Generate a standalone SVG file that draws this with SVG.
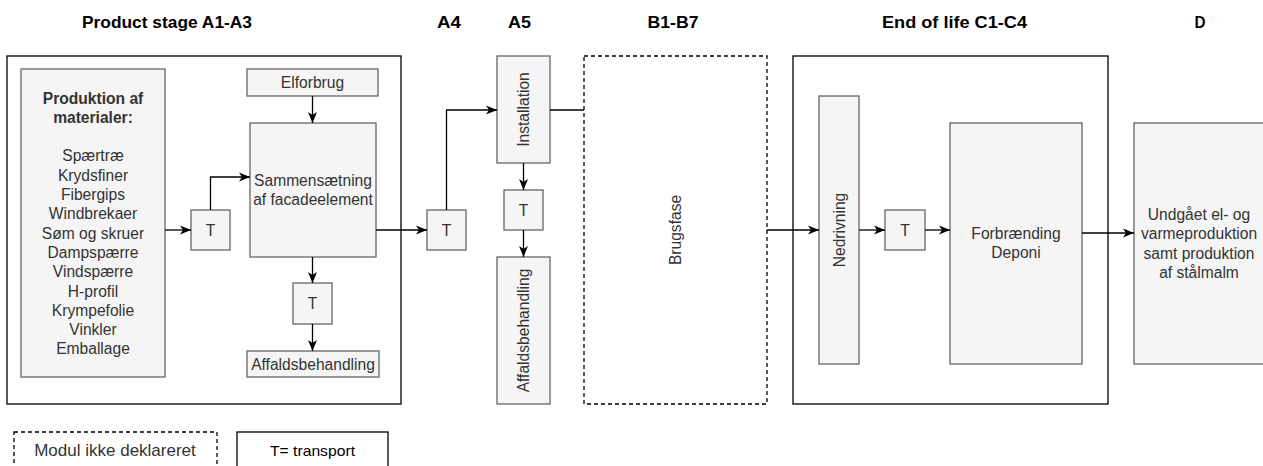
<svg xmlns="http://www.w3.org/2000/svg" width="1263" height="466" viewBox="0 0 1263 466">
<defs>
<style>
.frame{fill:#ffffff;stroke:#000000;stroke-width:1.3}
.dash{fill:#ffffff;stroke:#000000;stroke-width:1.3;stroke-dasharray:4,3}
.box{fill:#f5f5f5;stroke:#666666;stroke-width:1.3}
.t{font-family:"Liberation Sans",Arial,sans-serif;font-size:15.6px;fill:#333333;text-anchor:middle}
.b{font-weight:bold}
.h{font-family:"Liberation Sans",Arial,sans-serif;font-size:16.5px;font-weight:bold;fill:#000000;text-anchor:middle}
.c{fill:none;stroke:#000000;stroke-width:1.3}
</style>
<marker id="arr" markerUnits="userSpaceOnUse" markerWidth="12" markerHeight="12" viewBox="0 0 12 12" refX="11" refY="6" orient="auto">
<path d="M0,1.5 L11,6 L0,10.5 L3,6 Z" fill="#000000"/>
</marker>
</defs>
<rect width="1263" height="466" fill="#ffffff"/>

<g id="titles">
<text class="h" x="167" y="28" textLength="170" lengthAdjust="spacingAndGlyphs">Product stage A1-A3</text>
<text class="h" x="449" y="28" textLength="24" lengthAdjust="spacingAndGlyphs">A4</text>
<text class="h" x="519.5" y="28" textLength="23" lengthAdjust="spacingAndGlyphs">A5</text>
<text class="h" x="673" y="28" textLength="51" lengthAdjust="spacingAndGlyphs">B1-B7</text>
<text class="h" x="954.5" y="28" textLength="145" lengthAdjust="spacingAndGlyphs">End of life C1-C4</text>
<text class="h" x="1200" y="28" textLength="11" lengthAdjust="spacingAndGlyphs">D</text>
</g>

<g id="frame-a1a3"><rect class="frame" x="7" y="56" width="394" height="348"/></g>
<g id="frame-b"><rect class="dash" x="584" y="56" width="183" height="348"/><text class="t" transform="translate(680.5,230) rotate(-90)">Brugsfase</text></g>
<g id="frame-c"><rect class="frame" x="793" y="56" width="315" height="348"/></g>

<g id="produktion">
<rect class="box" x="21" y="69" width="144" height="308"/>
<text class="t b" x="93" y="103.5">Produktion af</text>
<text class="t b" x="93" y="122.8">materialer:</text>
<text class="t" x="93" y="161.4">Spærtræ</text>
<text class="t" x="93" y="180.7">Krydsfiner</text>
<text class="t" x="93" y="200">Fibergips</text>
<text class="t" x="93" y="219.3">Windbrekaer</text>
<text class="t" x="93" y="238.6">Søm og skruer</text>
<text class="t" x="93" y="257.9">Dampspærre</text>
<text class="t" x="93" y="277.2">Vindspærre</text>
<text class="t" x="93" y="296.5">H-profil</text>
<text class="t" x="93" y="315.8">Krympefolie</text>
<text class="t" x="93" y="335.1">Vinkler</text>
<text class="t" x="93" y="354.4">Emballage</text>
</g>

<g id="elforbrug"><rect class="box" x="247" y="69" width="131" height="27"/><text class="t" x="312.5" y="88">Elforbrug</text></g>
<g id="sammensaetning"><rect class="box" x="250" y="123" width="126" height="134"/><text class="t" x="313" y="185.5">Sammensætning</text><text class="t" x="313" y="205">af facadeelement</text></g>
<g id="t1"><rect class="box" x="191" y="210" width="39" height="40"/><text class="t" x="210.5" y="235.5">T</text></g>
<g id="t2"><rect class="box" x="293" y="283" width="39" height="41"/><text class="t" x="312.5" y="309">T</text></g>
<g id="affald-a1a3"><rect class="box" x="247" y="351" width="132" height="26"/><text class="t" x="313" y="369.5">Affaldsbehandling</text></g>

<g id="t-a4"><rect class="box" x="427" y="210" width="39" height="40"/><text class="t" x="446.5" y="235.5">T</text></g>

<g id="installation"><rect class="box" x="497" y="56" width="53" height="107"/><text class="t" transform="translate(529,109.5) rotate(-90)">Installation</text></g>
<g id="t-a5"><rect class="box" x="504" y="190" width="39" height="40"/><text class="t" x="523.5" y="215.5">T</text></g>
<g id="affald-a5"><rect class="box" x="497" y="257" width="53" height="147"/><text class="t" transform="translate(529,330.5) rotate(-90)">Affaldsbehandling</text></g>

<g id="nedrivning"><rect class="box" x="819" y="96" width="40" height="268"/><text class="t" transform="translate(844.5,230) rotate(-90)">Nedrivning</text></g>
<g id="t-c"><rect class="box" x="885" y="210" width="40" height="40"/><text class="t" x="905" y="235.5">T</text></g>
<g id="forbraending"><rect class="box" x="950" y="123" width="132" height="241"/><text class="t" x="1016" y="238.5">Forbrænding</text><text class="t" x="1016" y="258">Deponi</text></g>
<g id="undgaaet"><rect class="box" x="1134" y="123" width="132" height="241"/>
<text class="t" x="1199" y="220">Undgået el- og</text>
<text class="t" x="1199" y="239">varmeproduktion</text>
<text class="t" x="1199" y="258.5">samt produktion</text>
<text class="t" x="1199" y="278">af stålmalm</text>
</g>

<g id="legend-dashed"><rect class="dash" x="14" y="432" width="203" height="40"/><text x="115" y="456" font-family="'Liberation Sans',Arial,sans-serif" font-size="17px" fill="#333333" text-anchor="middle">Modul ikke deklareret</text></g>
<g id="legend-transport"><rect class="frame" x="237" y="432" width="151" height="40"/><text x="312.5" y="455.5" font-family="'Liberation Sans',Arial,sans-serif" font-size="15px" fill="#000000" text-anchor="middle" textLength="85" lengthAdjust="spacingAndGlyphs">T= transport</text></g>

<g id="connectors">
<path class="c" d="M165,230 H191" marker-end="url(#arr)"/>
<path class="c" d="M210.5,210 V177 H250" marker-end="url(#arr)"/>
<path class="c" d="M312.5,96 V123" marker-end="url(#arr)"/>
<path class="c" d="M312.5,257 V283" marker-end="url(#arr)"/>
<path class="c" d="M312.5,324 V351" marker-end="url(#arr)"/>
<path class="c" d="M376,230 H427" marker-end="url(#arr)"/>
<path class="c" d="M446.5,210 V110 H497" marker-end="url(#arr)"/>
<path class="c" d="M550,110 H584"/>
<path class="c" d="M523.5,163 V190" marker-end="url(#arr)"/>
<path class="c" d="M523.5,230 V257" marker-end="url(#arr)"/>
<path class="c" d="M767,230 H819" marker-end="url(#arr)"/>
<path class="c" d="M859,230 H885" marker-end="url(#arr)"/>
<path class="c" d="M925,230 H950" marker-end="url(#arr)"/>
<path class="c" d="M1082,233 H1134" marker-end="url(#arr)"/>
</g>
</svg>
